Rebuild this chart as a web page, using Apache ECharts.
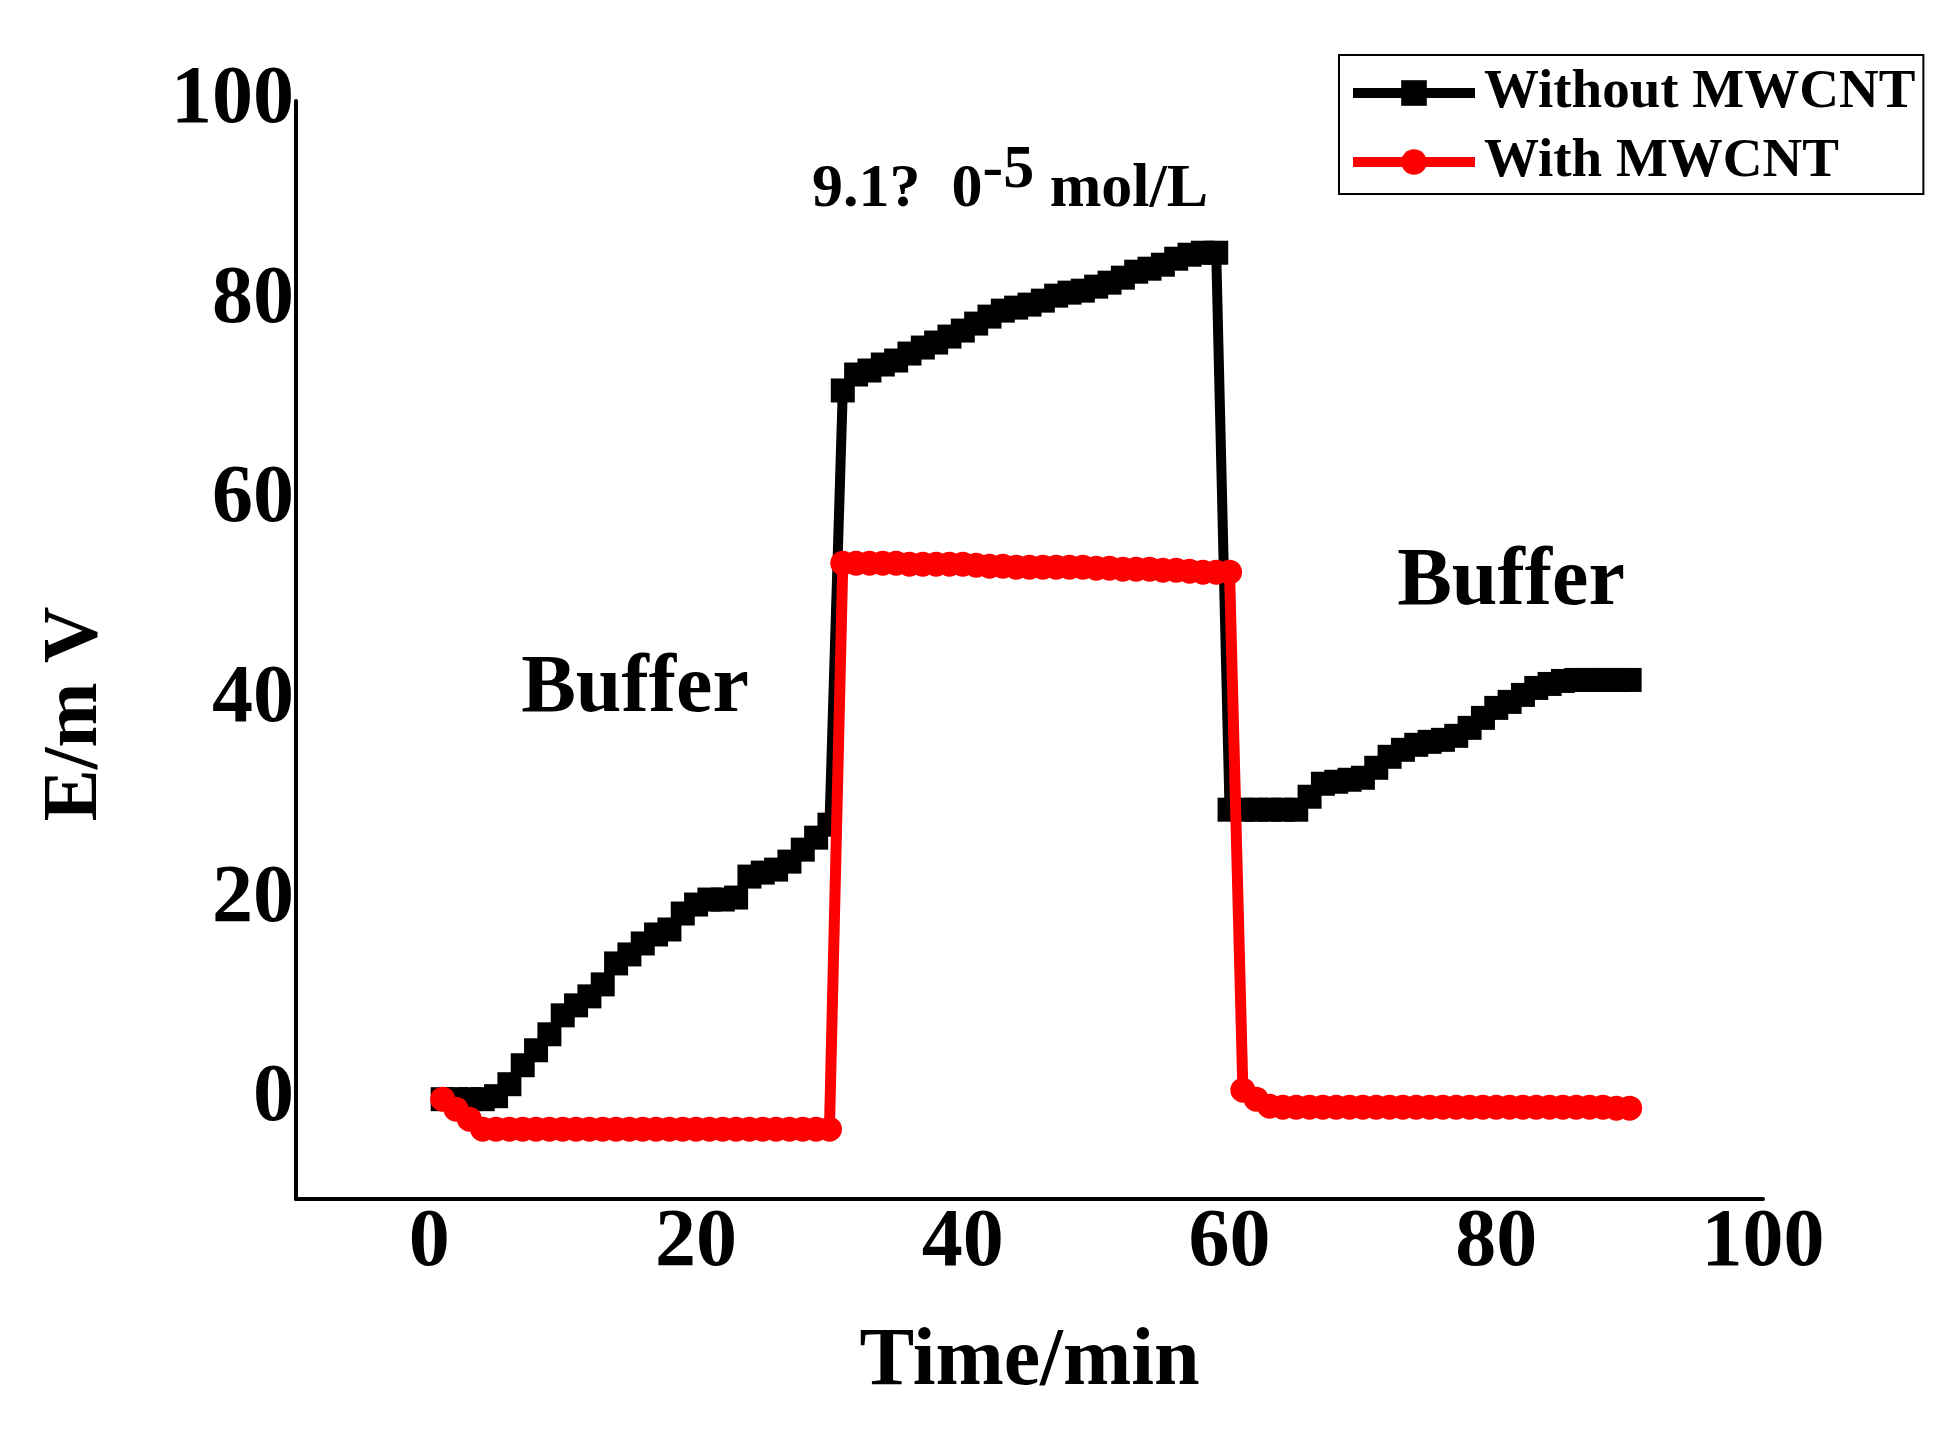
<!DOCTYPE html>
<html>
<head>
<meta charset="utf-8">
<script src="https://cdn.jsdelivr.net/npm/echarts@6/dist/echarts.min.js"></script>
<style>
html,body{margin:0;padding:0;background:#fff;}
#chart{width:1960px;height:1429px;}
</style>
</head>
<body>
<div id="chart"></div>
<script>
// Time in minutes
var timeMin = [1,2,3,4,5,6,7,8,9,10,11,12,13,14,15,16,17,18,19,20,21,22,23,24,25,26,27,28,29,30,
  31,32,33,34,35,36,37,38,39,40,41,42,43,44,45,46,47,48,49,50,51,52,53,54,55,56,57,58,59,60,
  61,62,63,64,65,66,67,68,69,70,71,72,73,74,75,76,77,78,79,80,81,82,83,84,85,86,87,88,89,90];
// E/mV without MWCNT
var withoutMWCNT = [0,0,0,0,0.3,1.5,3.4,4.9,6.5,8.4,9.4,10.3,11.5,13.6,14.5,15.6,16.5,17,18.6,19.5,
  20,20,20.2,22.3,22.7,23,23.8,25,26.2,27.5,
  71,72.6,73,73.6,74,74.7,75.3,75.8,76.4,77,77.7,78.4,79,79.3,79.6,80,80.5,80.8,81,81.4,
  81.8,82.3,82.9,83.2,83.6,84.2,84.6,84.8,84.8,29,
  29,29,29,29,29,30.3,31.6,31.8,32,32.2,33.2,34.3,35,35.5,35.8,36,36.4,37.2,38.2,39.2,
  39.8,40.5,41.2,41.6,41.9,42,42,42,42,42];
// E/mV with MWCNT
var withMWCNT = [0,-1,-2,-3,-3,-3,-3,-3,-3,-3,-3,-3,-3,-3,-3,-3,-3,-3,-3,-3,
  -3,-3,-3,-3,-3,-3,-3,-3,-3,-3,
  53.7,53.7,53.7,53.7,53.7,53.6,53.6,53.6,53.6,53.6,53.5,53.4,53.4,53.3,53.3,53.3,53.3,53.3,53.3,53.2,
  53.2,53.1,53.1,53.1,53.0,53.0,52.9,52.8,52.8,52.8,
  0.9,0,-0.7,-0.8,-0.8,-0.8,-0.8,-0.8,-0.8,-0.8,-0.8,-0.8,-0.8,-0.8,-0.8,-0.8,-0.8,-0.8,-0.8,-0.8,
  -0.8,-0.8,-0.8,-0.8,-0.8,-0.8,-0.8,-0.8,-0.9,-0.9];
var xTickLabels = [0,20,40,60,80,100];
var yTickLabels = [0,20,40,60,80,100];
var seriesNames = ['Without MWCNT','With MWCNT'];

function pairs(xs, ys){ return xs.map(function(x,i){ return [x, ys[i]]; }); }

var FONT = '"Liberation Serif","Times New Roman",serif';
var chart = echarts.init(document.getElementById('chart'));
chart.setOption({
  backgroundColor:'#fff',
  animation:false,
  grid:{left:296,right:197,top:101,bottom:230,containLabel:false},
  legend:{
    orient:'vertical',
    left:1339, top:55,
    padding:[8,8,2,9],
    itemGap:9,
    itemWidth:122,
    itemHeight:32,
    borderColor:'#000',
    borderWidth:2,
    lineStyle:{width:10},
    textStyle:{fontFamily:FONT,fontWeight:'bold',fontSize:55,color:'#000',lineHeight:60,padding:[0,0,0,4]},
    data:seriesNames
  },
  xAxis:{
    type:'value',min:-10,max:100,interval:10,
    name:'Time/min',nameLocation:'middle',nameGap:123,
    nameTextStyle:{fontFamily:FONT,fontWeight:'bold',fontSize:82,color:'#000'},
    axisLine:{onZero:false,lineStyle:{color:'#000',width:4}},
    axisTick:{show:false},
    splitLine:{show:false},
    axisLabel:{fontFamily:FONT,fontWeight:'bold',fontSize:82,color:'#000',margin:4,
      formatter:function(v){ return xTickLabels.indexOf(v)>=0 ? String(v) : ''; }}
  },
  yAxis:{
    type:'value',min:-10,max:100,interval:10,
    name:'E/m V',nameLocation:'middle',nameGap:181,nameRotate:90,
    nameTextStyle:{fontFamily:FONT,fontWeight:'bold',fontSize:78,color:'#000',padding:[0,128,0,0]},
    axisLine:{onZero:false,lineStyle:{color:'#000',width:4}},
    axisTick:{show:false},
    splitLine:{show:false},
    axisLabel:{fontFamily:FONT,fontWeight:'bold',fontSize:82,color:'#000',margin:2,
      formatter:function(v){ return yTickLabels.indexOf(v)>=0 ? String(v) : ''; }}
  },
  graphic:[
    {type:'text',x:812,y:190,z:10,style:{
      text:'{a|9.1?  0}{s|-5}{a| mol/L}',
      verticalAlign:'middle',align:'left',
      rich:{
        a:{fontFamily:FONT,fontWeight:'bold',fontSize:62,fill:'#000'},
        s:{fontFamily:FONT,fontWeight:'bold',fontSize:62,fill:'#000',padding:[0,0,38,0]}
      }}},
    {type:'text',x:635,y:690,z:10,style:{text:'Buffer',font:'bold 82px '+FONT,fill:'#000',align:'center',verticalAlign:'middle'}},
    {type:'text',x:1511,y:583,z:10,style:{text:'Buffer',font:'bold 82px '+FONT,fill:'#000',align:'center',verticalAlign:'middle'}}
  ],
  series:[
    {name:seriesNames[0],type:'line',z:2,data:pairs(timeMin,withoutMWCNT),
      symbol:'rect',symbolSize:24,showAllSymbol:true,
      lineStyle:{color:'#000',width:10},itemStyle:{color:'#000'}},
    {name:seriesNames[1],type:'line',z:3,data:pairs(timeMin,withMWCNT),
      symbol:'circle',symbolSize:25,showAllSymbol:true,
      lineStyle:{color:'#ff0000',width:11},itemStyle:{color:'#ff0000'}}
  ]
});
</script>
</body>
</html>
